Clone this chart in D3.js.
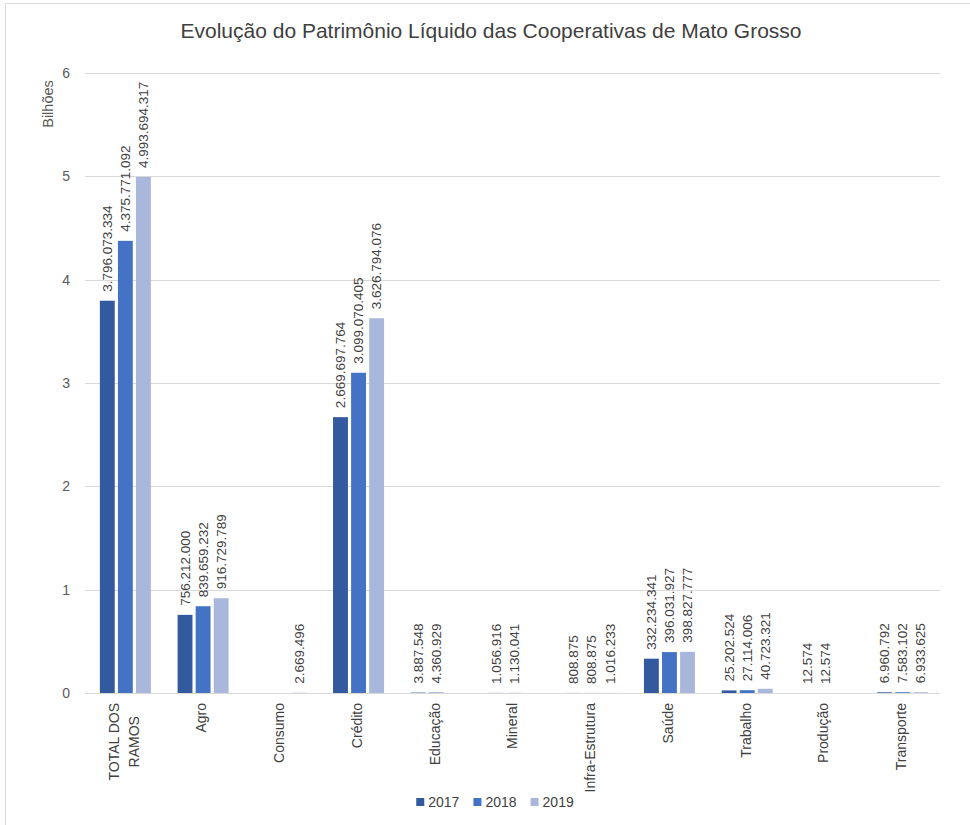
<!DOCTYPE html>
<html>
<head>
<meta charset="utf-8">
<title>Evolução do Patrimônio Líquido das Cooperativas de Mato Grosso</title>
<script src="https://d3js.org/d3.v7.min.js"></script>
<style>
    body { margin: 0; background: #fff; }
    svg { display: block; font-family: "Liberation Sans", Arial, sans-serif; }
</style>
</head>
<body>
<svg id="chart" width="970" height="825"></svg>
<script>
    // data (valores em reais)
    var categories = ["TOTAL DOS|RAMOS", "Agro", "Consumo", "Crédito", "Educação", "Mineral",
        "Infra-Estrutura", "Saúde", "Trabalho", "Produção", "Transporte"]
    var years = ["2017", "2018", "2019"]
    var v2017 = [3796073334, 756212000, null, 2669697764, 3887548, 1056916, 808875, 332234341, 25202524, 12574, 6960792]
    var v2018 = [4375771092, 839659232, null, 3099070405, 4360929, 1130041, 808875, 396031927, 27114006, 12574, 7583102]
    var v2019 = [4993694317, 916729789, 2669496, 3626794076, null, null, 1016233, 398827777, 40723321, null, 6933625]
    var yTicks = [0, 1, 2, 3, 4, 5, 6]
    var colors = ["#335a9e", "#4472c4", "#a9b7dc"]

    var series = [v2017, v2018, v2019]

    var margin = { top: 73, left: 85, right: 30, bottom: 132 }
    var width = 970, height = 825
    var svg = d3.select('#chart')

    var br = d3.formatLocale({ decimal: ",", thousands: ".", grouping: [3], currency: ["", ""] })
    var fmt = br.format(",d")

    // frame
    svg.append('path')
        .attr('d', 'M5.5,825 V3.5 H970')
        .attr('fill', 'none')
        .attr('stroke', '#d9d9d9')

    svg.append('text')
        .attr('x', 491)
        .attr('y', 38)
        .attr('text-anchor', 'middle')
        .attr('font-size', 21)
        .attr('fill', '#404040')
        .text('Evolução do Patrimônio Líquido das Cooperativas de Mato Grosso')

    var x0 = d3.scaleBand()
        .domain(categories)
        .range([margin.left, width - margin.right])
    var x1 = d3.scaleBand()
        .domain(years)
        .range([0, 51])
        .paddingInner(3 / 17)
    var y = d3.scaleLinear()
        .domain([0, 6])
        .range([height - margin.bottom, margin.top])

    // grid
    svg.append('g')
        .selectAll('line')
        .data(yTicks)
        .join('line')
        .attr('x1', margin.left)
        .attr('x2', width - margin.right)
        .attr('y1', d => Math.round(y(d)) + 0.5)
        .attr('y2', d => Math.round(y(d)) + 0.5)
        .attr('stroke', '#d9d9d9')

    var yAxis = svg.append('g')
        .attr('transform', 'translate(' + (margin.left - 15) + ',0)')
        .call(d3.axisLeft(y).tickValues(yTicks).tickFormat(d3.format('d')).tickSize(0).tickPadding(0))
    yAxis.select('.domain').remove()
    yAxis.selectAll('text')
        .attr('font-size', 14)
        .attr('font-family', '"Liberation Sans", Arial, sans-serif')
        .attr('fill', '#595959')

    svg.append('text')
        .attr('transform', 'translate(48,104) rotate(-90)')
        .attr('text-anchor', 'middle')
        .attr('dy', '0.35em')
        .attr('font-size', 14.5)
        .attr('fill', '#595959')
        .text('Bilhões')

    // bars
    var off = (x0.bandwidth() - 48) / 2
    var rows = []
    categories.forEach((c, i) => {
        years.forEach((yr, j) => {
            rows.push({ cat: c, year: yr, j: j, value: series[j][i] })
        })
    })
    var present = rows.filter(d => d.value != null)

    svg.append('g')
        .selectAll('rect')
        .data(present)
        .join('rect')
        .attr('x', d => x0(d.cat) + off + x1(d.year))
        .attr('width', x1.bandwidth())
        .attr('y', d => y(d.value / 1e9))
        .attr('height', d => y(0) - y(d.value / 1e9))
        .attr('fill', d => colors[d.j])

    // value labels
    svg.append('g')
        .selectAll('text')
        .data(present)
        .join('text')
        .attr('transform', d => 'translate(' + (x0(d.cat) + off + x1(d.year) + x1.bandwidth() / 2) + ','
            + (y(d.value / 1e9) - 9) + ') rotate(-90)')
        .attr('dy', '0.35em')
        .attr('font-size', 13.5)
        .attr('fill', '#404040')
        .text(d => fmt(d.value))

    // category labels
    var catG = svg.append('g')
        .selectAll('g')
        .data(categories)
        .join('g')
        .attr('transform', d => 'translate(' + (x0(d) + x0.bandwidth() / 2) + ',' + (y(0) + 10) + ') rotate(-90)')
    catG.each(function (d) {
        var g = d3.select(this)
        var lines = d.split('|')
        var texts = lines.map((l, i) => g.append('text')
            .attr('y', (i - (lines.length - 1) / 2) * 20)
            .attr('dy', '0.35em')
            .attr('font-size', 14)
            .attr('fill', '#404040')
            .attr('text-anchor', 'middle')
            .text(l))
        var maxLen = d3.max(texts, t => t.node().getComputedTextLength())
        texts.forEach(t => t.attr('x', -maxLen / 2))
    })

    // legend
    var leg = svg.append('g').attr('transform', 'translate(0,802)')
    var lx = 0
    var items = years.map((yr, j) => {
        var g = leg.append('g')
        g.append('rect').attr('y', -4).attr('width', 8).attr('height', 8).attr('fill', colors[j])
        var t = g.append('text').attr('x', 12).attr('dy', '0.35em')
            .attr('font-size', 14).attr('fill', '#404040').text(yr)
        var w = 12 + t.node().getComputedTextLength()
        g.attr('transform', 'translate(' + lx + ',0)')
        lx += w + 14
        return g
    })
    var total = lx - 14
    leg.attr('transform', 'translate(' + (495 - total / 2) + ',802)')
</script>
</body>
</html>
